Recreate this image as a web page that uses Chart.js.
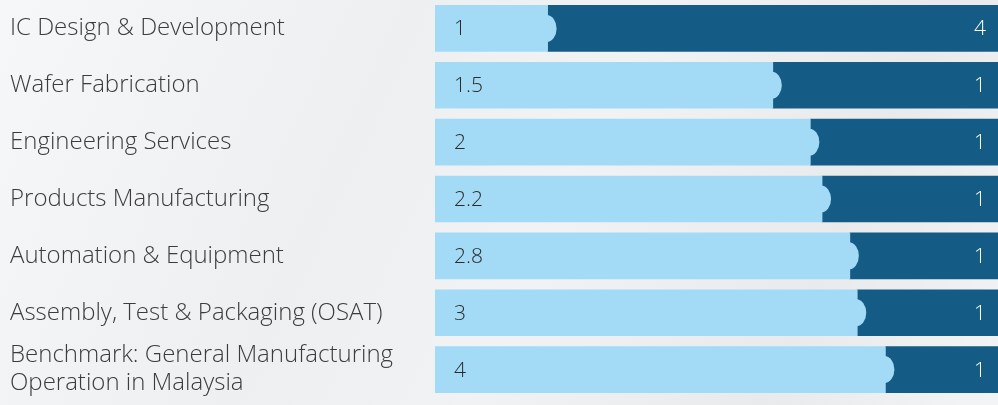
<!DOCTYPE html>
<html>
<head>
<meta charset="utf-8">
<script src="https://cdn.jsdelivr.net/npm/chart.js@4"></script>
<style>
    html, body {
        margin: 0;
        padding: 0;
    }
    body {
        width: 998px;
        height: 405px;
        overflow: hidden;
        background: linear-gradient(115deg, #f6f7f9 0%, #eeeff1 35%, #f1f2f4 55%, #e9eaec 80%, #f3f4f6 100%);
    }
    #wrap {
        position: relative;
        width: 998px;
        height: 405px;
    }
</style>
</head>
<body>
<div id="wrap"><canvas id="myChart"></canvas></div>
<script>
const categories = [
    'IC Design & Development',
    'Wafer Fabrication',
    'Engineering Services',
    'Products Manufacturing',
    'Automation & Equipment',
    'Assembly, Test & Packaging (OSAT)',
    ['Benchmark: General Manufacturing', 'Operation in Malaysia']
];
const firstValues = [1, 1.5, 2, 2.2, 2.8, 3, 4];
const secondValues = [4, 1, 1, 1, 1, 1, 1];

const lightBlue = '#a3dbf6';
const darkBlue = '#145c85';

// each bar is drawn as a share of its own total
let firstShare = firstValues.map((v, i) => v / (v + secondValues[i]));
let secondShare = secondValues.map((v, i) => v / (v + firstValues[i]));

const capAndLabels = {
    id: 'capAndLabels',
    afterDatasetsDraw(chart) {
        const ctx = chart.ctx;
        const area = chart.chartArea;
        const metaLight = chart.getDatasetMeta(0);
        const metaDark = chart.getDatasetMeta(1);

        ctx.save();
        // rounded end of the light part
        metaLight.data.forEach((bar) => {
            ctx.beginPath();
            ctx.fillStyle = lightBlue;
            ctx.ellipse(bar.x - 1, bar.y, 10, 13.5, 0, -Math.PI / 2, Math.PI / 2);
            ctx.fill();
        });

        ctx.font = '300 21px "Open Sans"';
        ctx.textBaseline = 'middle';
        metaLight.data.forEach((bar, i) => {
            ctx.fillStyle = '#2b2b2b';
            ctx.textAlign = 'left';
            ctx.fillText(String(firstValues[i]), bar.base + 19, bar.y + 1);
        });
        metaDark.data.forEach((bar, i) => {
            ctx.fillStyle = '#ffffff';
            ctx.textAlign = 'right';
            ctx.fillText(String(secondValues[i]), area.right - 12, bar.y + 1);
        });
        ctx.restore();
    }
};

let config = {
    type: 'bar',
    data: {
        labels: categories,
        datasets: [{
            data: firstShare,
            backgroundColor: lightBlue,
            borderWidth: 0,
            barThickness: 46
        }, {
            data: secondShare,
            backgroundColor: darkBlue,
            borderWidth: 0,
            barThickness: 46
        }]
    },
    options: {
        indexAxis: 'y',
        responsive: true,
        maintainAspectRatio: false,
        animation: false,
        layout: {
            padding: { left: 10, right: 0, top: -2, bottom: 7 }
        },
        plugins: {
            legend: { display: false },
            tooltip: { enabled: false }
        },
        scales: {
            x: {
                stacked: true,
                min: 0,
                max: 1,
                display: false
            },
            y: {
                stacked: true,
                grid: { display: false },
                border: { display: false },
                afterFit: (scale) => {
                    scale.width = 425;
                    scale.paddingTop = 0;
                    scale.paddingBottom = 0;
                },
                ticks: {
                    autoSkip: false,
                    crossAlign: 'far',
                    color: '#3c3c3c',
                    padding: 0,
                    font: {
                        family: '"Open Sans"',
                        size: 24,
                        weight: 300,
                        lineHeight: 1.17
                    }
                }
            }
        }
    },
    plugins: [capAndLabels]
};

let ctx = document.getElementById('myChart').getContext('2d');
var myChart = new Chart(ctx, config);
</script>
</body>
</html>
